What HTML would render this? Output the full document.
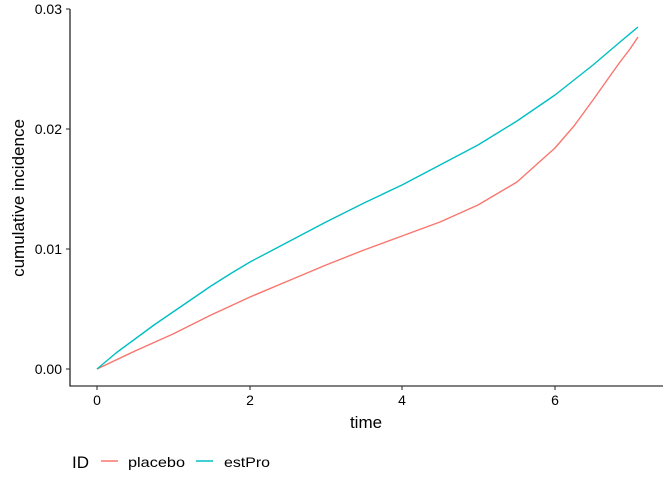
<!DOCTYPE html>
<html><head><style>body{margin:0;background:#fff}svg{display:block}text{font-family:"Liberation Sans",sans-serif}</style></head>
<body>
<svg width="672" height="480" viewBox="0 0 672 480" xmlns="http://www.w3.org/2000/svg">
<rect width="672" height="480" fill="#fff"/>
<line x1="70" y1="9" x2="70" y2="386.5" stroke="#000" stroke-width="1.1"/>
<line x1="69.5" y1="386" x2="663" y2="386" stroke="#000" stroke-width="1.1"/>
<g stroke="#333" stroke-width="1.1">
<line x1="66" y1="369" x2="70" y2="369"/><line x1="66" y1="249" x2="70" y2="249"/><line x1="66" y1="129" x2="70" y2="129"/><line x1="66" y1="9" x2="70" y2="9"/>
<line x1="97" y1="386" x2="97" y2="390"/><line x1="250" y1="386" x2="250" y2="390"/><line x1="402" y1="386" x2="402" y2="390"/><line x1="555" y1="386" x2="555" y2="390"/>
</g>
<g font-size="14" fill="#000" text-anchor="end">
<text x="62" y="374">0.00</text><text x="62" y="254">0.01</text><text x="62" y="134">0.02</text><text x="62" y="14">0.03</text>
</g>
<g font-size="14" fill="#000" text-anchor="middle">
<text x="97" y="405">0</text><text x="250" y="405">2</text><text x="402" y="405">4</text><text x="555" y="405">6</text>
<text x="366" y="428" font-size="17">time</text>
</g>
<text transform="translate(24,198) rotate(-90)" font-size="17" text-anchor="middle">cumulative incidence</text>
<polyline fill="none" stroke="#F8766D" stroke-width="1.4" stroke-linejoin="round" points="97,369 135,351 173,334 211,315 250,297 288,281 326,265 364,250 402,236 440,222 478,205 517,182 555,148 574,126 593,100 610,76 620,62 630,49 638,37"/>
<polyline fill="none" stroke="#00BFC4" stroke-width="1.4" stroke-linejoin="round" points="97,369 116,353 135,339 154,325 173,312 192,299 211,286 230,274 250,262 288,242 326,222 364,203 402,185 440,165 478,145 517,121 555,95 593,65 620,42 638,27"/>
<text x="72" y="468" font-size="17">ID</text>
<line x1="101" y1="461" x2="118" y2="461" stroke="#F8766D" stroke-width="1.4"/>
<text x="128" y="467" font-size="14" textLength="57" lengthAdjust="spacingAndGlyphs">placebo</text>
<line x1="196" y1="461" x2="213" y2="461" stroke="#00BFC4" stroke-width="1.4"/>
<text x="224" y="467" font-size="14" textLength="46" lengthAdjust="spacingAndGlyphs">estPro</text>
</svg>
</body></html>
